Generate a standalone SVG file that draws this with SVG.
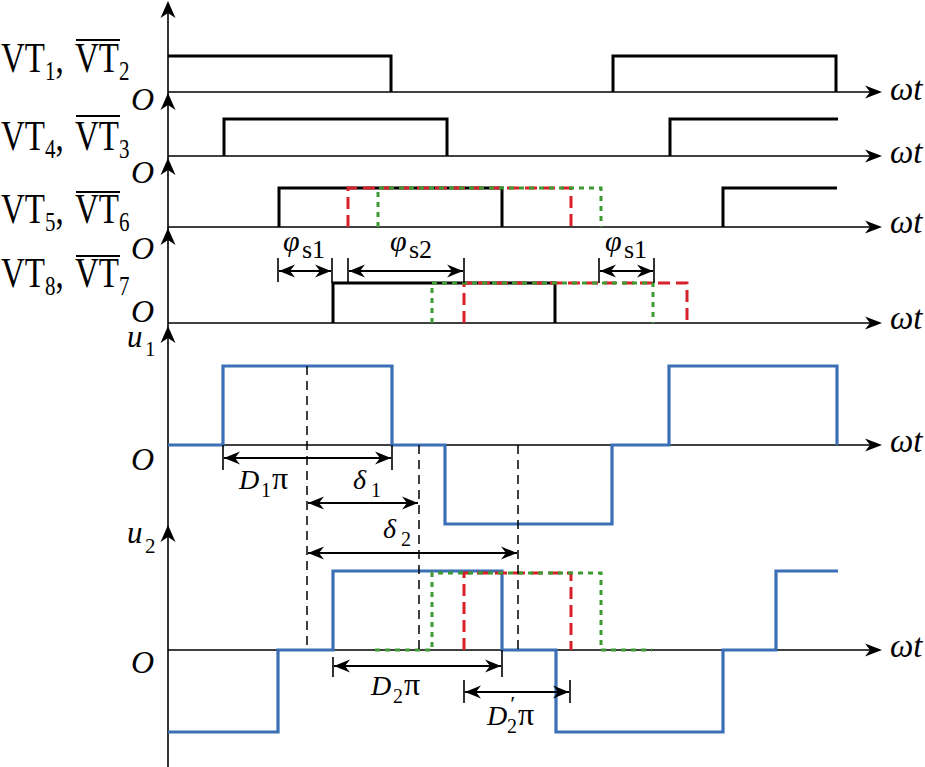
<svg xmlns="http://www.w3.org/2000/svg" width="925" height="767" viewBox="0 0 925 767">
<style>
text, tspan { font-family: 'Liberation Serif', serif !important; }
</style>
<defs>
<marker id="dimhead" viewBox="-16 -7 17 14" refX="0" refY="0" markerWidth="17" markerHeight="14" markerUnits="userSpaceOnUse" orient="auto-start-reverse">
<path d="M0,0 L-16,-6.5 L-11,0 L-16,6.5 Z" fill="#000"/>
</marker>
<path id="upHead" d="M0,0 L-7.5,17 L0,12 L7.5,17 Z"/>
<path id="rtHead" d="M0,0 L-17,-6.5 L-12,0 L-17,6.5 Z"/>
</defs>

<g id="axes">
<g stroke="#000" stroke-width="1.6" fill="none">
<line x1="168" y1="6" x2="168" y2="767"/>
<line x1="168" y1="92" x2="876" y2="92"/>
<line x1="168" y1="156" x2="876" y2="156"/>
<line x1="168" y1="227" x2="876" y2="227"/>
<line x1="168" y1="323" x2="876" y2="323"/>
<line x1="168" y1="445" x2="876" y2="445"/>
<line x1="168" y1="650" x2="876" y2="650"/>
</g>
<g fill="#000">
<use href="#upHead" x="168" y="1"/>
<use href="#upHead" x="168" y="93"/>
<use href="#upHead" x="168" y="158"/>
<use href="#upHead" x="168" y="228"/>
<use href="#upHead" x="168" y="326"/>
<use href="#upHead" x="168" y="525"/>
<use href="#rtHead" x="882" y="92"/>
<use href="#rtHead" x="882" y="156"/>
<use href="#rtHead" x="882" y="227"/>
<use href="#rtHead" x="882" y="323"/>
<use href="#rtHead" x="882" y="445"/>
<use href="#rtHead" x="882" y="650"/>
</g>
</g>

<g id="axis-labels">
<text style="font-family:'Liberation Serif',serif;font-style:italic" x="890" y="100" font-size="33">ωt</text>
<text style="font-family:'Liberation Serif',serif;font-style:italic" x="890" y="163" font-size="33">ωt</text>
<text style="font-family:'Liberation Serif',serif;font-style:italic" x="890" y="233" font-size="33">ωt</text>
<text style="font-family:'Liberation Serif',serif;font-style:italic" x="890" y="329" font-size="33">ωt</text>
<text style="font-family:'Liberation Serif',serif;font-style:italic" x="890" y="452" font-size="33">ωt</text>
<text style="font-family:'Liberation Serif',serif;font-style:italic" x="890" y="657" font-size="33">ωt</text>
<text style="font-family:'Liberation Serif',serif;font-style:italic" x="131" y="110" font-size="32">O</text>
<text style="font-family:'Liberation Serif',serif;font-style:italic" x="131" y="183" font-size="32">O</text>
<text style="font-family:'Liberation Serif',serif;font-style:italic" x="131" y="259" font-size="32">O</text>
<text style="font-family:'Liberation Serif',serif;font-style:italic" x="131" y="322" font-size="32">O</text>
<text style="font-family:'Liberation Serif',serif;font-style:italic" x="131" y="470" font-size="32">O</text>
<text style="font-family:'Liberation Serif',serif;font-style:italic" x="131" y="673" font-size="32">O</text>
<text style="font-family:'Liberation Serif',serif" font-size="31"><tspan font-style="italic" x="127" y="347">u</tspan><tspan x="145" y="356" font-size="21">1</tspan></text>
<text style="font-family:'Liberation Serif',serif" font-size="31"><tspan font-style="italic" x="127" y="543">u</tspan><tspan x="145" y="553" font-size="21">2</tspan></text>
</g>

<g id="signal-labels">
<g id="lab-vt1">
<text style="font-family:'Liberation Serif',serif" transform="translate(0,72) scale(1,1.25)" font-size="33"><tspan x="1">VT</tspan><tspan font-size="21" dy="6.4">1</tspan><tspan dy="-6.4">,</tspan><tspan x="75">VT</tspan><tspan font-size="21" dy="6.4">2</tspan></text>
<line x1="76" y1="40" x2="120" y2="40" stroke="#000" stroke-width="2"/>
</g>
<g id="lab-vt4">
<text style="font-family:'Liberation Serif',serif" transform="translate(0,150) scale(1,1.25)" font-size="33"><tspan x="1">VT</tspan><tspan font-size="21" dy="6.4">4</tspan><tspan dy="-6.4">,</tspan><tspan x="75">VT</tspan><tspan font-size="21" dy="6.4">3</tspan></text>
<line x1="76" y1="116" x2="120" y2="116" stroke="#000" stroke-width="2"/>
</g>
<g id="lab-vt5">
<text style="font-family:'Liberation Serif',serif" transform="translate(0,223) scale(1,1.25)" font-size="33"><tspan x="1">VT</tspan><tspan font-size="21" dy="6.4">5</tspan><tspan dy="-6.4">,</tspan><tspan x="75">VT</tspan><tspan font-size="21" dy="6.4">6</tspan></text>
<line x1="76" y1="192" x2="120" y2="192" stroke="#000" stroke-width="2"/>
</g>
<g id="lab-vt8">
<text style="font-family:'Liberation Serif',serif" transform="translate(0,287) scale(1,1.25)" font-size="33"><tspan x="1">VT</tspan><tspan font-size="21" dy="6.4">8</tspan><tspan dy="-6.4">,</tspan><tspan x="75">VT</tspan><tspan font-size="21" dy="6.4">7</tspan></text>
<line x1="76" y1="256" x2="120" y2="256" stroke="#000" stroke-width="2"/>
</g>
</g>

<g id="gate-signals">
<g stroke="#000" stroke-width="3" fill="none">
<path d="M168,56 H391 V92"/>
<path d="M613,92 V56 H836 V92"/>
<path d="M224,156 V119 H447 V156"/>
<path d="M670,156 V119 H838"/>
<path d="M279,227 V188 H502 V227"/>
<path d="M723,227 V188 H837"/>
<path d="M333,323 V283 H555 V323"/>
</g>
<g stroke="#d8202a" stroke-width="3" fill="none" stroke-dasharray="12 6">
<path d="M348,227 V188 H571 V227"/>
<path d="M464,323 V283 H687 V323"/>
</g>
<g stroke="#3e9a33" stroke-width="3" fill="none" stroke-dasharray="5 5">
<path d="M378,227 V188 H601 V227"/>
<path d="M432,323 V283 H653 V323"/>
</g>
</g>

<g id="voltages">
<g stroke="#3b6fb6" stroke-width="3.2" fill="none">
<path d="M168,445 H223 V366 H392 V445 H445 V524 H612 V445 H669 V366 H837 V445"/>
<path d="M168,732 H278 V650 H333 V571 H502 V650 H556 V732 H723 V650 H776 V571 H838"/>
</g>
<path d="M464,650 V573 H571 V650" stroke="#d8202a" stroke-width="3" fill="none" stroke-dasharray="12 6"/>
<path d="M375,650 H432 V573 H601 V650 H652" stroke="#3e9a33" stroke-width="3" fill="none" stroke-dasharray="5 5"/>
</g>

<g id="connectors">
<g stroke="#000" stroke-width="1.5" fill="none" stroke-dasharray="9 6">
<line x1="307" y1="366" x2="307" y2="650"/>
<line x1="419" y1="445" x2="419" y2="650"/>
<line x1="518" y1="445" x2="518" y2="650"/>
</g>
<g stroke="#000" stroke-width="1.6" fill="none">
<path d="M278,258 V282 M332,258 V283 M348,258 V283 M464,258 V283 M599,258 V283 M654,258 V283"/>
<path d="M223,445 V470 M392,445 V470"/>
<path d="M333,657 V677 M502,650 V677"/>
<path d="M464,680 V703 M570,680 V703"/>
</g>
<g stroke="#000" stroke-width="1.8" fill="none" marker-start="url(#dimhead)" marker-end="url(#dimhead)">
<line x1="279" y1="271" x2="331" y2="271"/>
<line x1="349" y1="271" x2="463" y2="271"/>
<line x1="600" y1="271" x2="653" y2="271"/>
<line x1="224" y1="458" x2="391" y2="458"/>
<line x1="308" y1="503" x2="418" y2="503"/>
<line x1="308" y1="553" x2="517" y2="553"/>
<line x1="334" y1="666" x2="501" y2="666"/>
<line x1="465" y1="692" x2="569" y2="692"/>
</g>
</g>

<g id="dim-labels">
<text style="font-family:'Liberation Serif',serif" font-size="30"><tspan font-style="italic" x="283" y="251">φ</tspan><tspan x="302" y="258" font-size="26">s1</tspan></text>
<text style="font-family:'Liberation Serif',serif" font-size="30"><tspan font-style="italic" x="390" y="251">φ</tspan><tspan x="409" y="258" font-size="26">s2</tspan></text>
<text style="font-family:'Liberation Serif',serif" font-size="30"><tspan font-style="italic" x="605" y="251">φ</tspan><tspan x="624" y="258" font-size="26">s1</tspan></text>
<text style="font-family:'Liberation Serif',serif" font-size="28"><tspan font-style="italic" x="239" y="489">D</tspan><tspan x="261" y="497" font-size="20">1</tspan><tspan x="272" y="489" font-size="32">π</tspan></text>
<text style="font-family:'Liberation Serif',serif" font-size="28"><tspan font-style="italic" x="353" y="489">δ</tspan><tspan x="371" y="497" font-size="20">1</tspan></text>
<text style="font-family:'Liberation Serif',serif" font-size="28"><tspan font-style="italic" x="383" y="538">δ</tspan><tspan x="401" y="546" font-size="20">2</tspan></text>
<text style="font-family:'Liberation Serif',serif" font-size="28"><tspan font-style="italic" x="371" y="695">D</tspan><tspan x="393" y="703" font-size="20">2</tspan><tspan x="404" y="695" font-size="32">π</tspan></text>
<text style="font-family:'Liberation Serif',serif" font-size="28"><tspan font-style="italic" x="487" y="725">D</tspan><tspan font-style="italic" x="509" y="711" font-size="22">′</tspan><tspan x="507" y="733" font-size="20">2</tspan><tspan x="518" y="725" font-size="32">π</tspan></text>
</g>
</svg>
